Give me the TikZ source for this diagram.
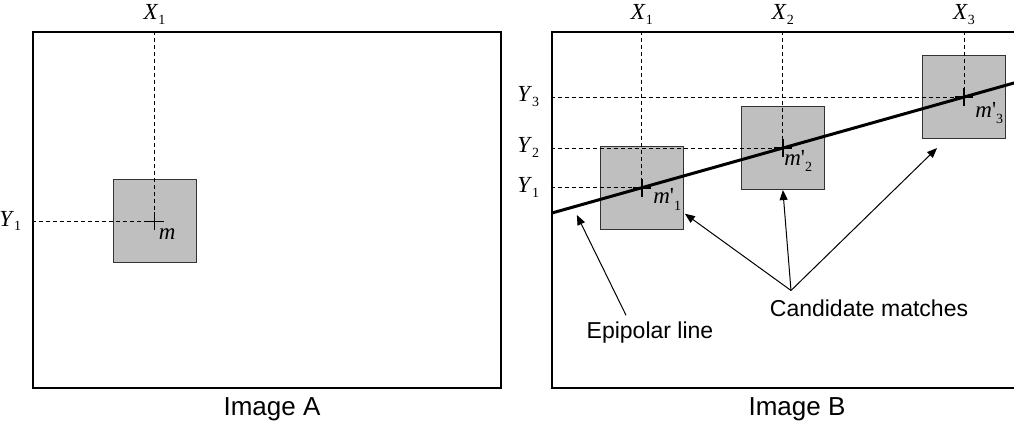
\documentclass[tikz,border=0pt]{standalone}
\usepackage{fontspec}
\setmainfont{Liberation Serif}
\setsansfont{Liberation Sans}
\usetikzlibrary{arrows.meta,calc}

\newcommand{\axlbl}[2]{\textit{#1}\raisebox{-0.45ex}{\fontsize{7}{8}\selectfont #2}}
\newcommand{\matchlbl}[1]{\textit{m}\textquotesingle\raisebox{-0.6ex}{\fontsize{7}{8}\selectfont #1}}

\tikzset{
 imgframe/.style={draw, line width=1.4pt, inner sep=0pt},
 patch/.style={draw=black!80, fill=black!25, line width=0.5pt, minimum size=41.5pt, inner sep=0pt},
 guide/.style={dash pattern=on 2pt off 1.5pt, line width=0.5pt},
 pointer/.style={-{Triangle[length=5pt,width=4pt]}, line width=0.5pt},
 crossmark/.style={line width=0.8pt},
 coordtext/.style={font=\fontsize{11.5}{13}\selectfont, inner sep=0pt},
 notetext/.style={font=\sffamily\fontsize{11.5}{13}\selectfont},
 titletext/.style={font=\sffamily\fontsize{13}{15}\selectfont}
}

\begin{document}
\begin{tikzpicture}[x=0.5pt,y=-0.5pt]
 \useasboundingbox (0,0) rectangle (1014,431);
 \clip (0,0) rectangle (1014,431);
 % image A
 \node[imgframe, minimum width=234pt, minimum height=178pt] (imgA) at (267,210) {};
 \node[patch] (pa) at (154.5,221.5) {};
 \draw[guide] (pa.center -| imgA.west) -- (pa.center);
 \draw[guide] (pa.center |- imgA.north) -- (pa.center);
 \draw[crossmark] (pa.center) +(-9,0) -- +(9,0) +(0,-9) -- +(0,9);
 \node[coordtext, anchor=base] (xa) at ($(pa.center |- imgA.north)+(0,-11)$) {\axlbl{X}{1}};
 \node[coordtext, anchor=mid east] (ya) at ($(pa.center -| imgA.west)+(-10,0)$) {\axlbl{Y}{1}};
 \node[coordtext, anchor=base west] (ma) at ($(pa.center)+(4,18)$) {\textit{m}};
 \node[titletext] (titleA) at (272,409) {Image A};
 % image B
 \node[imgframe, minimum width=240pt, minimum height=178pt] (imgB) at (792,210) {};
 \coordinate (e0) at (552,213);
 \coordinate (e1) at (1030,78.5);
 \foreach \i/\pos in {1/0.188,2/0.483,3/0.862} \node[patch] (p\i) at ($(e0)!\pos!(e1)$) {};
 \draw[line width=1.5pt] (e0) -- (e1);
 \foreach \i/\dx/\dy in {1/11/16,2/1/17,3/11/20} {
   \draw[guide] (p\i.center -| imgB.west) -- (p\i.center);
   \draw[guide] (p\i.center |- imgB.north) -- (p\i.center);
   \draw[crossmark] (p\i.center) +(-9,0) -- +(9,0) +(0,-9) -- +(0,9);
   \node[coordtext, anchor=base] (xb\i) at ($(p\i.center |- imgB.north)+(0,-11)$) {\axlbl{X}{\i}};
   \node[coordtext, anchor=mid east] (yb\i) at ($(p\i.center -| imgB.west)+(-11,0)$) {\axlbl{Y}{\i}};
   \node[coordtext, anchor=base west] (mb\i) at ($(p\i.center)+(\dx,\dy)$) {\matchlbl{\i}};
 }
 \node[notetext] (epi) at (650,333) {Epipolar line};
 \node[notetext] (cand) at (869,308) {Candidate matches};
 \coordinate (epitip) at ($(e0)!0.052!(e1)+(0,9)$);
 \coordinate (cmsrc) at ($(cand.north)+(-78,-2)$);
 \draw[pointer] ($(epi.north)+(-24,0)$) -- (epitip);
 \draw[pointer] (cmsrc) -- ($(p1.south east)+(1,-16)$);
 \draw[pointer] (cmsrc) -- (p2.south);
 \draw[pointer] (cmsrc) -- ($(p3.south west)+(15,9)$);
 \node[titletext] (titleB) at (797,409) {Image B};
\end{tikzpicture}
\end{document}
